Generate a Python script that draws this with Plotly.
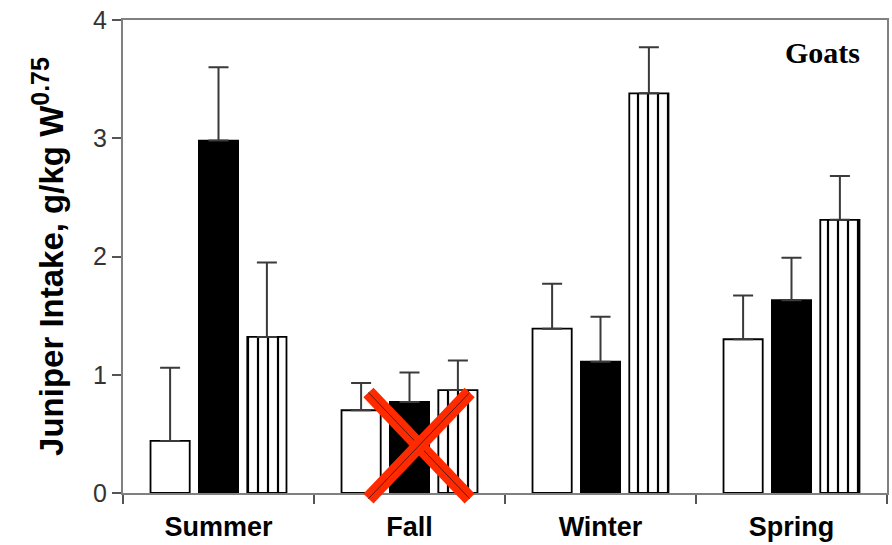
import plotly.graph_objects as go

# Juniper intake by season for goats (three treatment groups)
seasons = ["Summer", "Fall", "Winter", "Spring"]
intake_white = [0.44, 0.70, 1.39, 1.30]
intake_black = [2.98, 0.77, 1.11, 1.63]
intake_striped = [1.32, 0.87, 3.38, 2.31]
se_white = [0.62, 0.23, 0.38, 0.37]
se_black = [0.62, 0.25, 0.38, 0.36]
se_striped = [0.63, 0.25, 0.39, 0.37]
y_ticks = [0, 1, 2, 3, 4]

err_style = dict(type="data", symmetric=False, color="#3a3a3a", thickness=2, width=10)


def bar(name, values, errors, fill, pattern=None):
    marker = dict(color=fill, line=dict(color="black", width=1.8))
    if pattern:
        marker["pattern"] = pattern
    return go.Bar(
        name=name, x=seasons, y=values, marker=marker,
        error_y=dict(array=errors, arrayminus=[0] * len(errors), **err_style),
        showlegend=False, hoverinfo="x+y",
    )


fig = go.Figure([
    bar("Group 1", intake_white, se_white, "white"),
    bar("Group 2", intake_black, se_black, "black"),
    bar("Group 3", intake_striped, se_striped, "white",
        pattern=dict(shape="|", size=10, solidity=0.22, fgcolor="black",
                     bgcolor="white", fillmode="replace")),
])

# Red cross marking the excluded Fall value of group 2
fall_idx = seasons.index("Fall")
cx = (fall_idx + 0.55) / len(seasons)
top = (intake_black[fall_idx] + 0.08) / 4
half_w = 0.265 / len(seasons)
bottom = -0.012
for x0, x1 in [(cx - half_w, cx + half_w), (cx + half_w, cx - half_w)]:
    fig.add_shape(type="line", xref="paper", yref="paper", x0=x0, y0=top, x1=x1, y1=bottom,
                  line=dict(color="#ff2a00", width=14), layer="above")
    fig.add_shape(type="line", xref="paper", yref="paper", x0=x0, y0=top, x1=x1, y1=bottom,
                  line=dict(color="#5a1a10", width=1), layer="above")

fig.add_annotation(text="<b>Goats</b>", xref="paper", yref="paper", x=0.967, y=0.932,
                   xanchor="right", yanchor="middle", showarrow=False,
                   font=dict(family="Liberation Serif, Times New Roman, serif", size=30, color="black"))

fig.update_layout(
    width=892, height=545,
    margin=dict(l=123, r=3, t=20, b=52),
    paper_bgcolor="white", plot_bgcolor="white",
    barmode="group", bargap=0.24, bargroupgap=0.19,
    font=dict(family="Liberation Sans, Arial, sans-serif", color="#222"),
)
fig.update_xaxes(
    showline=True, linecolor="#808080", linewidth=2, mirror=True,
    ticks="outside", ticklen=9, tickcolor="#555", tickwidth=1.5, tickson="boundaries",
    tickfont=dict(size=27, color="black", family="Liberation Sans, Arial, sans-serif", weight="bold"),
    ticklabelstandoff=9, showgrid=False,
)
fig.update_yaxes(
    range=[0, 4], tickvals=y_ticks,
    showline=True, linecolor="#808080", linewidth=2, mirror=True,
    ticks="outside", ticklen=9, tickcolor="#555", tickwidth=1.5,
    tickfont=dict(size=25, color="#333"), showgrid=False, zeroline=False,
    title=dict(text="<b>Juniper Intake, g/kg W<sup><span style=\"font-size:25px\">0.75</span></sup></b>",
               font=dict(size=33, color="black"), standoff=20),
)

fig.write_html("out.html")
